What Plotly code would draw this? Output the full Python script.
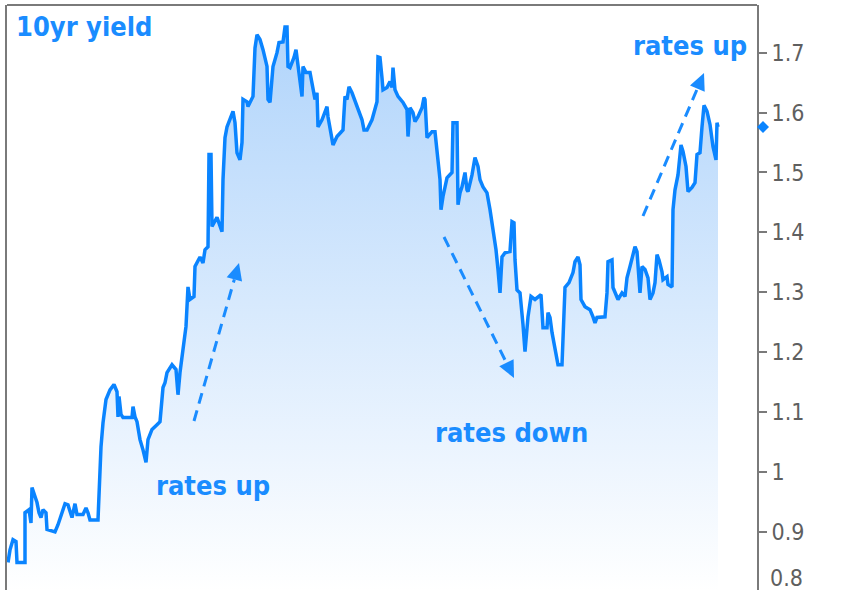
import plotly.graph_objects as go

# ---- data (trading-day index, 10yr yield %) ----
day = [
    0, 2, 5, 8, 9, 17, 17, 21, 23, 24,
    27, 29, 31, 33, 35, 38, 39, 47, 50, 54,
    57, 60, 64, 67, 69, 75, 78, 80, 82, 90,
    91, 93, 95, 98, 102, 106, 109, 110, 111, 113,
    115, 124, 125, 127, 129, 132, 135, 138, 140, 144,
    149, 152, 155, 157, 159, 164, 168, 170, 172, 175,
    178, 179, 180, 182, 186, 187, 192, 195, 197, 200,
    201, 203, 204, 209, 214, 215, 217, 219, 225, 227,
    229, 232, 234, 235, 239, 240, 245, 247, 249, 252,
    255, 259, 260, 262, 265, 269, 271, 275, 277, 279,
    280, 282, 286, 288, 290, 292, 294, 295, 298, 302,
    305, 307, 309, 310, 314, 319, 320, 323, 325, 329,
    335, 336, 337, 339, 341, 344, 349, 354, 356, 359,
    364, 369, 370, 372, 374, 375, 379, 382, 384, 385,
    387, 390, 395, 399, 400, 402, 405, 407, 410, 414,
    416, 417, 419, 424, 427, 429, 432, 433, 435, 439,
    444, 445, 449, 450, 452, 454, 457, 459, 460, 464,
    467, 470, 472, 475, 479, 482, 485, 488, 490, 492,
    494, 497, 502, 504, 506, 507, 509, 512, 515, 517,
    520, 523, 527, 533, 535, 539, 540, 542, 544, 547,
    550, 554, 555, 557, 561, 565, 567, 570, 572, 573,
    577, 582, 585, 587, 589, 597, 599, 600, 604, 605,
    610, 614, 617, 619, 622, 625, 627, 629, 630, 632,
    634, 637, 640, 642, 645, 647, 649, 651, 654, 655,
    659, 660, 664, 665, 667, 670, 673, 675, 678, 680,
    684, 687, 689, 692, 694, 696, 699, 702, 705, 708,
    709, 710,
]
yield_10y = [
    0.849, 0.870, 0.887, 0.884, 0.849, 0.849, 0.932, 0.937, 0.915, 0.974,
    0.959, 0.949, 0.932, 0.924, 0.937, 0.932, 0.904, 0.900, 0.912, 0.932,
    0.947, 0.945, 0.924, 0.947, 0.929, 0.929, 0.940, 0.932, 0.920, 0.920,
    0.959, 1.042, 1.082, 1.121, 1.137, 1.146, 1.134, 1.092, 1.126, 1.096,
    1.091, 1.091, 1.109, 1.092, 1.084, 1.054, 1.037, 1.016, 1.054, 1.071,
    1.079, 1.084, 1.141, 1.149, 1.166, 1.179, 1.171, 1.129, 1.166, 1.204,
    1.243, 1.276, 1.309, 1.288, 1.293, 1.343, 1.359, 1.349, 1.371, 1.376,
    1.530, 1.530, 1.410, 1.425, 1.401, 1.488, 1.558, 1.576, 1.602, 1.583,
    1.533, 1.521, 1.550, 1.622, 1.618, 1.610, 1.627, 1.708, 1.730, 1.722,
    1.705, 1.677, 1.622, 1.617, 1.677, 1.700, 1.717, 1.718, 1.743, 1.743,
    1.677, 1.675, 1.692, 1.705, 1.677, 1.660, 1.627, 1.677, 1.667, 1.667,
    1.638, 1.622, 1.633, 1.576, 1.588, 1.610, 1.593, 1.566, 1.546, 1.560,
    1.571, 1.600, 1.627, 1.622, 1.643, 1.633, 1.610, 1.588, 1.571, 1.571,
    1.588, 1.618, 1.693, 1.692, 1.658, 1.638, 1.642, 1.652, 1.642, 1.675,
    1.638, 1.627, 1.617, 1.605, 1.560, 1.608, 1.600, 1.585, 1.593, 1.608,
    1.625, 1.622, 1.558, 1.568, 1.568, 1.538, 1.488, 1.438, 1.460, 1.491,
    1.500, 1.583, 1.583, 1.446, 1.466, 1.476, 1.500, 1.471, 1.468, 1.496,
    1.525, 1.510, 1.488, 1.476, 1.466, 1.438, 1.405, 1.371, 1.338, 1.299,
    1.359, 1.366, 1.368, 1.418, 1.416, 1.354, 1.304, 1.299, 1.246, 1.201,
    1.259, 1.293, 1.288, 1.296, 1.241, 1.241, 1.266, 1.258, 1.233, 1.209,
    1.179, 1.179, 1.226, 1.308, 1.316, 1.333, 1.351, 1.359, 1.346, 1.288,
    1.276, 1.271, 1.259, 1.249, 1.258, 1.259, 1.299, 1.351, 1.354, 1.308,
    1.288, 1.299, 1.293, 1.324, 1.343, 1.366, 1.376, 1.368, 1.343, 1.299,
    1.343, 1.338, 1.324, 1.288, 1.299, 1.316, 1.363, 1.354, 1.334, 1.321,
    1.326, 1.313, 1.309, 1.438, 1.471, 1.496, 1.546, 1.535, 1.510, 1.468,
    1.475, 1.483, 1.530, 1.533, 1.576, 1.612, 1.602, 1.580, 1.543, 1.521,
    1.583, 1.576,
]
tick_vals = [0.9, 1.0, 1.1, 1.2, 1.3, 1.4, 1.5, 1.6, 1.7]
tick_text = ["0.9", "1", "1.1", "1.2", "1.3", "1.4", "1.5", "1.6", "1.7"]
title_text = "10yr yield"
notes = ["rates up", "rates down", "rates up"]

# ---- styling / layout ----
W, H = 863, 590
ML, MR, MT, MB = 7, 106, 5, 0
PW, PH = W - ML - MR, H - MT - MB
Y0, Y1 = 0.803, 1.7796
BLUE = "#0a84ff"
TXT_BLUE = "#1a8cff"
GRAY = "#7a7a7a"
TICK_FONT = dict(family="DejaVu Sans Condensed, DejaVu Sans, sans-serif", size=23, color="#5f5f5f")


def px(xp):
    return (xp - ML) / PW


def py(yp):
    return (H - MB - yp) / PH


fig = go.Figure()
fig.add_trace(go.Scatter(
    x=day, y=yield_10y, mode="lines",
    line=dict(color=BLUE, width=3.5),
    fill="tozeroy",
    fillgradient=dict(type="vertical", start=0.80, stop=1.75,
                      colorscale=[[0, "rgba(255,255,255,1)"], [1, "rgb(176,212,251)"]]),
    hoverinfo="skip", showlegend=False,
))

shapes = [dict(type="line", xref="paper", yref="paper", x0=0, x1=1, y0=1, y1=1,
               line=dict(color=GRAY, width=2))]

# last-value diamond just right of the axis, at the last yield
last = yield_10y[-1]
cx, hx = px(763), 6 / PW
hy = 6 * (Y1 - Y0) / PH
shapes.append(dict(type="path", xref="paper", yref="y",
                   path=f"M {cx - hx},{last} L {cx},{last + hy} L {cx + hx},{last} L {cx},{last - hy} Z",
                   fillcolor=BLUE, line=dict(width=0)))

annotations = []

# dashed arrows (start px, tip px)
arrows = [((194, 421), (239, 263)), ((444, 237), (514, 378)), ((643, 216), (704, 73))]
for (sx, sy), (tx, ty) in arrows:
    dx, dy = tx - sx, ty - sy
    L = (dx * dx + dy * dy) ** 0.5
    ux, uy = dx / L, dy / L
    nx, ny = -uy, ux
    hl, hw = 17, 8
    bx, by = tx - hl * ux, ty - hl * uy
    shapes.append(dict(type="line", xref="paper", yref="paper",
                       x0=px(sx), y0=py(sy), x1=px(bx), y1=py(by),
                       line=dict(color=TXT_BLUE, width=3, dash="11px,7px")))
    p1 = (px(tx), py(ty))
    p2 = (px(bx + hw * nx), py(by + hw * ny))
    p3 = (px(bx - hw * nx), py(by - hw * ny))
    shapes.append(dict(type="path", xref="paper", yref="paper",
                       path=f"M {p1[0]},{p1[1]} L {p2[0]},{p2[1]} L {p3[0]},{p3[1]} Z",
                       fillcolor=TXT_BLUE, line=dict(width=0)))

label_font = dict(family="DejaVu Sans Condensed, DejaVu Sans, sans-serif", size=27,
                  color=TXT_BLUE, weight="bold")
for text, (lx, ly) in zip([title_text] + notes, [(14, 27), (154, 485), (433, 432), (631, 46)]):
    annotations.append(dict(text=text, xref="paper", yref="paper", x=px(lx), y=py(ly),
                            xanchor="left", yanchor="middle", showarrow=False, font=label_font))

# bottom tick label that sits below the plotted range
annotations.append(dict(text="0.8", xref="paper", yref="paper", x=1, y=py(578),
                        xanchor="left", yanchor="middle", xshift=11, showarrow=False,
                        font=TICK_FONT))

fig.update_layout(
    width=W, height=H,
    margin=dict(l=ML, r=MR, t=MT, b=MB),
    paper_bgcolor="white", plot_bgcolor="white",
    shapes=shapes, annotations=annotations,
    xaxis=dict(range=[-1, 749], visible=True, showticklabels=False, ticks="",
               showgrid=False, zeroline=False, showline=False, fixedrange=True),
    yaxis=dict(side="right", range=[Y0, Y1], tickvals=tick_vals, ticktext=tick_text,
               ticks="outside", ticklen=8, tickwidth=2, tickcolor=GRAY,
               showline=True, linecolor=GRAY, linewidth=2, mirror=True,
               showgrid=False, zeroline=False, tickfont=TICK_FONT),
)

fig.write_html("out.html", config={"displayModeBar": False},
               post_script="document.body.style.margin='0px';document.body.style.overflow='hidden';")
